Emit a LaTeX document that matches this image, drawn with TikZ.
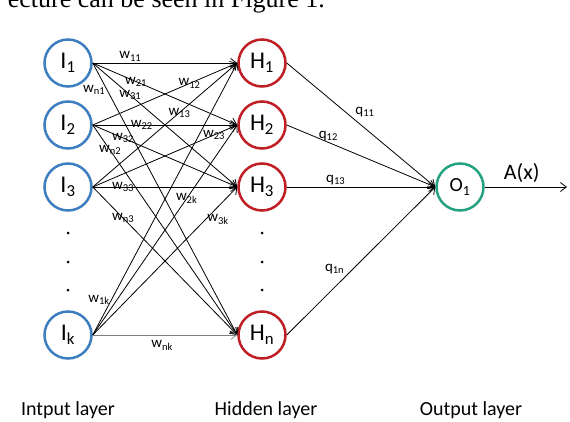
\documentclass[tikz,border=0pt]{standalone}
\usepackage{fontspec}
\setsansfont{Carlito}
\newfontfamily\pageserif{Liberation Serif}
\usetikzlibrary{arrows.meta, positioning}

\definecolor{inblue}{RGB}{61,126,192}
\definecolor{hidred}{RGB}{190,30,36}
\definecolor{outgreen}{RGB}{36,160,130}

\tikzset{
  neuron/.style={circle, draw, line width=2.5pt, minimum size=47pt, inner sep=0pt, font=\sffamily\fontsize{24}{26}\selectfont},
  wire/.style={line width=0.8pt, -{Straight Barb[length=6pt,width=9pt]}},
  wlabel/.style={font=\sffamily\fontsize{15}{17}\selectfont, inner sep=1.5pt},
  layerlabel/.style={font=\sffamily\fontsize{20}{22}\selectfont, inner sep=0pt},
}

\begin{document}
\begin{tikzpicture}[x=1pt, y=-1pt]
\useasboundingbox (0,0) rectangle (570,422);
\clip (0,0) rectangle (570,422);
% cut-off line of the page above
\node[anchor=base east, font=\pageserif\fontsize{26}{28}\selectfont, inner sep=0pt] (pagetext) at (325,8) {ecture can be seen in Figure 1.};

% Input layer
\node[neuron, draw=inblue] (i1) at (68,63) {I\textsubscript{1}};
\node[neuron, draw=inblue] (i2) at (68,125) {I\textsubscript{2}};
\node[neuron, draw=inblue] (i3) at (68,187) {I\textsubscript{3}};
\node[neuron, draw=inblue] (ik) at (68,335) {I\textsubscript{k}};
% Hidden layer
\node[neuron, draw=hidred] (h1) at (262,63) {H\textsubscript{1}};
\node[neuron, draw=hidred] (h2) at (262,125) {H\textsubscript{2}};
\node[neuron, draw=hidred] (h3) at (262,187) {H\textsubscript{3}};
\node[neuron, draw=hidred] (hn) at (262,335) {H\textsubscript{n}};
% Output layer
\node[neuron, draw=outgreen, font=\sffamily\fontsize{20}{22}\selectfont] (o1) at (460,187) {O\textsubscript{1}};
\coordinate (out) at (567,187);

% Dots
\foreach \y in {233,262,290} {
  \fill (68,\y) circle (1.5pt);
  \fill (262,\y) circle (1.5pt);
}

% Input to hidden weights
\foreach \src/\dst/\idx/\p/\anc in {
  i1/h1/11/0.26/south, i1/h2/21/0.3/center, i1/h3/31/0.26/center, i1/hn/n1/0.1/east,
  i2/h1/12/0.67/center, i2/h2/22/0.34/center, i2/h3/32/0.21/center, i2/hn/n2/0.12/center,
  i3/h1/13/0.6/center, i3/h2/23/0.84/center, i3/h3/33/0.21/center, i3/hn/n3/0.21/center,
  ik/h1/1k/0.13/east, ik/h2/2k/0.65/center, ik/h3/3k/0.78/west}
  \draw[wire] (\src.east) -- (\dst.west) node[wlabel, pos=\p, anchor=\anc] (w\idx) {w\textsubscript{\idx}};
\draw[wire, draw=gray, line width=0.6pt] (ik.east) -- (hn.west) node[wlabel, pos=0.48, below=4pt] (wnk) {w\textsubscript{nk}};

% Hidden to output weights
\foreach \src/\idx/\p/\anc in {h1/11/0.45/south west, h2/12/0.28/south, h3/13/0.33/south, hn/1n/0.4/south east}
  \draw[wire] (\src.east) -- (o1.west) node[wlabel, pos=\p, anchor=\anc] (q\idx) {q\textsubscript{\idx}};

% Output
\draw[wire] (o1.east) -- (out) node[pos=0.45, above=4pt, font=\sffamily\fontsize{22}{24}\selectfont, inner sep=0pt] (ax) {A(x)};

% Layer names
\node[layerlabel, anchor=base] (inlabel) at (68,415) {Intput layer};
\node[layerlabel, anchor=base] (hidlabel) at (266,415) {Hidden layer};
\node[layerlabel, anchor=base] (outlabel) at (471,415) {Output layer};
\end{tikzpicture}
\end{document}
